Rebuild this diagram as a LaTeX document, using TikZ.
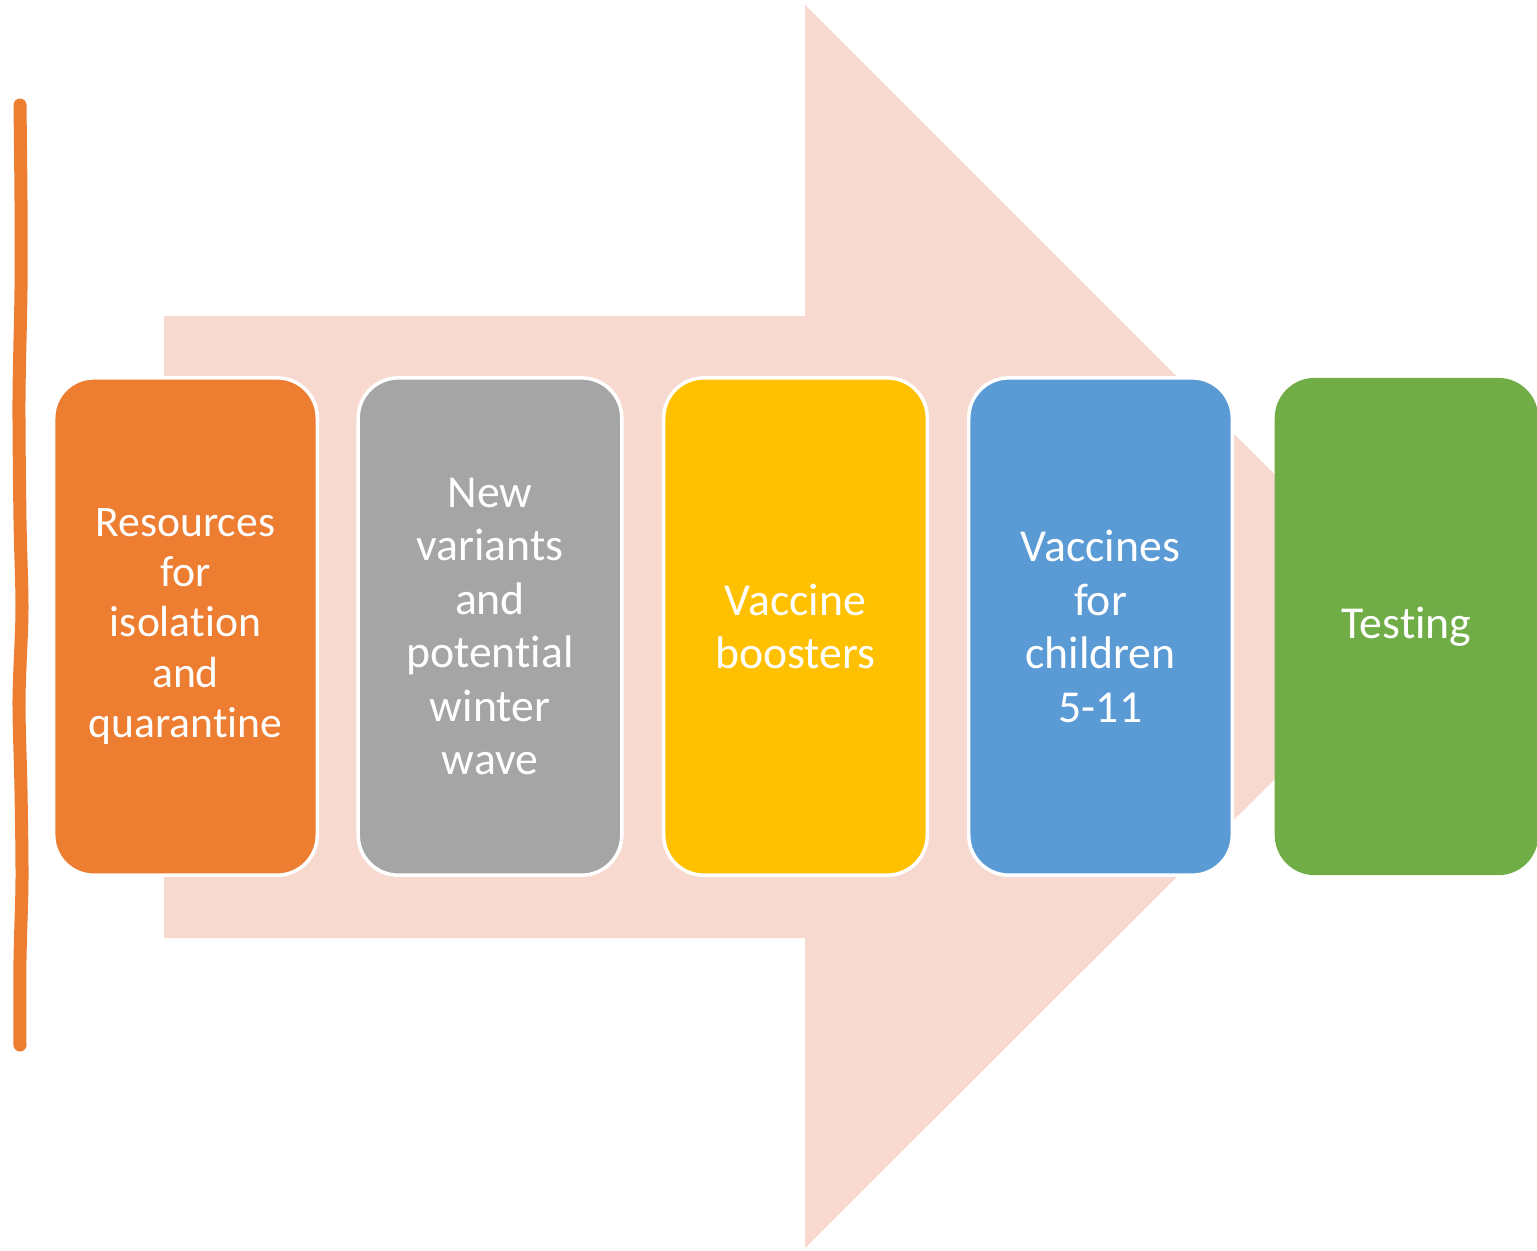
\documentclass[tikz,border=0pt]{standalone}
\usepackage{fontspec}
\setmainfont[RawFeature={-liga;-clig;-dlig;-calt}]{Carlito}
\definecolor{arrowpink}{HTML}{F8D9CF}
\definecolor{isoorange}{HTML}{ED7D31}
\definecolor{variantgray}{HTML}{A5A5A5}
\definecolor{boosteryellow}{HTML}{FFC000}
\definecolor{childblue}{HTML}{5B9BD5}
\definecolor{testgreen}{HTML}{70AD47}
\begin{document}
\begin{tikzpicture}[x=0.01cm, y=-0.01cm,
  every node/.style = {shape=rectangle, rounded corners=0.4cm,
    draw=white, line width=1pt, align=center, text=white,
    minimum width=2.61cm, minimum height=4.97cm, text width=2.4cm,
    font=\fontsize{13}{15.2}\selectfont}]
  \useasboundingbox (0,0) rectangle (1537,1250);
  % big background arrow
  \fill[arrowpink] (164,316) -- (805,316) -- (805,5) -- (1427,627)
    -- (805,1248) -- (805,938) -- (164,938) -- cycle;
  % wavy line at the left
  \draw[isoorange, line width=0.13cm, line cap=round]
    plot[smooth] coordinates {(20,105) (21,200) (21,290) (19,400)
      (20,520) (22,610) (19,700) (21,790) (22,880) (20,960) (20,1045)};
  \node[fill=isoorange, font=\fontsize{12.4}{14.3}\selectfont]
    (iso) at (185.5,626.5) {Resources\\for\\isolation\\and\\quarantine};
  \node[fill=variantgray] (variants) at (490,626.5)
    {New\\variants\\and\\potential\\winter\\wave};
  \node[fill=boosteryellow] (boosters) at (795.5,626.5) {Vaccine\\boosters};
  \node[fill=childblue] (children) at (1100.5,626.5)
    {Vaccines\\for\\children\\5-11};
  \node[fill=testgreen, draw=none] (testing) at (1406.5,626.5) {Testing};
\end{tikzpicture}
\end{document}
